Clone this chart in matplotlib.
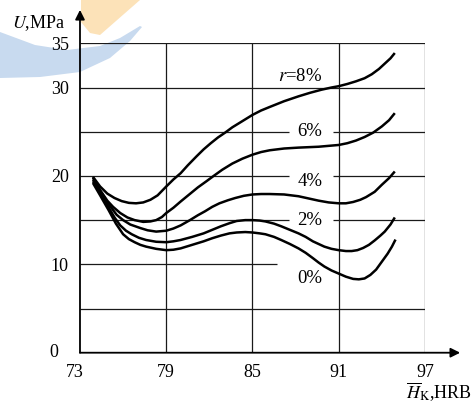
import matplotlib
matplotlib.use('Agg')
import matplotlib.pyplot as plt
from matplotlib import patches

plt.rcParams['font.family'] = ['Liberation Serif', 'DejaVu Serif']
plt.rcParams['mathtext.fontset'] = 'stix'

# values (hardness HRB vs stress MPa)
x_8 = [73.9, 74.4, 74.9, 75.4, 75.9, 76.4, 76.9, 77.4, 77.9, 78.4, 79.0, 79.5, 80.0, 80.5,
       81.1, 81.6, 82.1, 82.6, 83.1, 83.6, 84.2, 85.0, 85.6, 86.2, 87.2, 88.2, 89.0, 89.8,
       90.5, 91.0, 91.6, 92.2, 92.8, 93.3, 93.8, 94.2, 94.6, 94.9]
u_8 = [19.9, 18.8, 18.0, 17.5, 17.15, 16.95, 16.9, 17.0, 17.3, 17.8, 18.8, 19.6, 20.3, 21.2,
       22.2, 23.0, 23.7, 24.35, 24.9, 25.5, 26.1, 26.9, 27.4, 27.8, 28.45, 29.0, 29.4, 29.75,
       30.0, 30.15, 30.4, 30.7, 31.05, 31.5, 32.1, 32.7, 33.3, 33.9]
x_6 = [73.9, 74.4, 74.9, 75.3, 75.8, 76.3, 76.8, 77.4, 77.9, 78.3, 78.7, 79.0, 79.5, 80.0,
       80.6, 81.2, 81.8, 82.3, 82.9, 83.6, 84.3, 85.0, 85.6, 86.2, 87.2, 88.2, 89.6, 91.0,
       91.6, 92.2, 92.8, 93.4, 94.0, 94.5, 94.9]
u_6 = [19.8, 18.4, 17.2, 16.5, 15.8, 15.3, 15.0, 14.8, 14.85, 15.0, 15.35, 15.8, 16.4, 17.1,
       17.9, 18.7, 19.4, 20.0, 20.7, 21.4, 21.95, 22.4, 22.7, 22.9, 23.1, 23.2, 23.3, 23.5,
       23.7, 24.0, 24.4, 24.9, 25.6, 26.3, 27.1]
x_4 = [73.9, 74.4, 74.9, 75.55, 76.0, 76.5, 77.2, 77.7, 78.3, 79.0, 79.5, 80.0, 80.65, 81.2,
       81.7, 82.2, 82.7, 83.3, 83.8, 84.4, 85.0, 85.6, 86.2, 87.2, 88.2, 88.9, 89.6, 90.3,
       91.0, 91.5, 92.0, 92.5, 92.9, 93.5, 94.0, 94.5, 94.9]
u_4 = [19.6, 18.3, 17.0, 15.6, 15.0, 14.5, 14.1, 13.85, 13.7, 13.8, 14.05, 14.4, 15.0, 15.55,
       16.0, 16.5, 16.9, 17.25, 17.5, 17.75, 17.9, 17.95, 17.95, 17.9, 17.7, 17.45, 17.2, 17.0,
       16.9, 16.9, 17.05, 17.3, 17.6, 18.2, 19.0, 19.75, 20.5]
x_2 = [73.9, 74.4, 74.9, 75.4, 75.8, 76.2, 76.6, 77.1, 77.6, 78.3, 79.0, 79.5, 80.0, 80.8,
       81.6, 82.2, 82.8, 83.4, 83.9, 84.5, 85.0, 85.5, 85.9, 86.5, 87.0, 87.6, 88.2, 88.7,
       89.2, 89.6, 90.0, 90.5, 91.0, 91.5, 91.9, 92.3, 92.7, 93.1, 93.5, 93.9, 94.2, 94.6,
       94.9]
u_2 = [19.4, 18.0, 16.7, 15.3, 14.4, 13.8, 13.4, 13.0, 12.75, 12.55, 12.5, 12.6, 12.75, 13.1,
       13.5, 13.9, 14.3, 14.65, 14.9, 15.0, 15.0, 14.95, 14.85, 14.6, 14.3, 13.9, 13.5, 13.1,
       12.6, 12.3, 12.0, 11.75, 11.6, 11.5, 11.5, 11.6, 11.85, 12.2, 12.7, 13.25, 13.7, 14.5,
       15.3]
x_0 = [73.9, 74.4, 75.0, 75.5, 76.0, 76.4, 76.8, 77.2, 77.6, 78.3, 79.0, 79.5, 80.0, 80.8,
       81.6, 82.2, 82.8, 83.4, 83.9, 84.5, 85.0, 85.5, 85.9, 86.5, 87.0, 87.6, 88.2, 88.7,
       89.2, 89.6, 90.0, 90.5, 91.0, 91.5, 92.0, 92.4, 92.8, 93.2, 93.6, 94.0, 94.4, 94.7,
       94.95]
u_0 = [19.2, 17.8, 16.1, 14.6, 13.4, 12.85, 12.5, 12.2, 12.0, 11.75, 11.6, 11.65, 11.8, 12.2,
       12.6, 12.95, 13.25, 13.5, 13.6, 13.65, 13.6, 13.5, 13.4, 13.1, 12.75, 12.3, 11.8, 11.3,
       10.7, 10.2, 9.75, 9.3, 8.95, 8.6, 8.35, 8.3, 8.4, 8.8, 9.4, 10.3, 11.2, 12.0, 12.8]

curves = [(x_8, u_8), (x_6, u_6), (x_4, u_4), (x_2, u_2), (x_0, u_0)]
curve_labels = [r'$r$=8%', '6%', '4%', '2%', '0%']
label_y = [31.3, 25.05, 19.4, 15.0, 8.45]

x_ticks = [79, 85, 91, 97]
y_ticks = [10, 20, 30, 35]
h_grid = [5, 10, 15, 20, 25, 30, 35]

fig = plt.figure(figsize=(4.75, 4.12), dpi=100)

# faint watermark in the top-left corner (figure pixels)
wm = fig.add_axes([0, 0, 1, 1], zorder=-5)
wm.set_xlim(0, 475)
wm.set_ylim(412, 0)
wm.axis('off')
outer = [(0, 78), (40, 77), (80, 72), (110, 58), (130, 41), (142, 27)]
inner = [(140, 26), (120, 38), (100, 46), (67, 50), (35, 45), (0, 32)]
wm.add_patch(patches.Polygon(outer + inner, closed=True, color='#c8daef', lw=0))
wm.add_patch(patches.Polygon([(81, 0), (140, 0), (100, 35), (90, 33), (81, 22)],
                             closed=True, color='#fce2b8', lw=0))

ax = fig.add_axes([0.1684, 0.1439, 0.7263, 0.7510])
ax.patch.set_alpha(0)
ax.set_xlim(73, 97)
ax.set_ylim(0, 35)
for s in ax.spines.values():
    s.set_visible(False)

gc = '#1a1a1a'
for y in h_grid:
    if y == 10:
        ax.hlines(y, 73, 86.7, color=gc, lw=0.9)
    elif y in (15, 20, 25):
        ax.hlines(y, 73, 87.55, color=gc, lw=0.9)
        ax.hlines(y, 90.6, 97, color=gc, lw=0.9)
    else:
        ax.hlines(y, 73, 97, color=gc, lw=0.9)
for x in x_ticks:
    ax.vlines(x, 0, 35, color=gc, lw=0.9)

# axes with arrow heads
ax.annotate('', xy=(0, 1.108), xytext=(0, 0), xycoords='axes fraction',
            arrowprops=dict(arrowstyle='-|>', lw=1.3, color='k', mutation_scale=14,
                            shrinkA=0, shrinkB=0))
ax.annotate('', xy=(1.102, 0), xytext=(0, 0), xycoords='axes fraction',
            arrowprops=dict(arrowstyle='-|>', lw=1.3, color='k', mutation_scale=14,
                            shrinkA=0, shrinkB=0))

for (xs, us) in curves:
    ax.plot(xs, us, color='k', lw=1.8, solid_capstyle='butt', solid_joinstyle='round',
            zorder=4)

for lab, ly in zip(curve_labels, label_y):
    ax.text(89.85, ly, lab, ha='right', va='center', fontsize=13.5)

ax.set_xticks(x_ticks)
ax.set_yticks(y_ticks)
ax.tick_params(length=0, labelsize=13, pad=8)
ax.annotate('0', xy=(73, 0), xytext=(-16, 0), textcoords='offset points',
            ha='right', va='center', fontsize=13)
ax.annotate('73', xy=(73, 0), xytext=(-3.5, -8), textcoords='offset points',
            ha='center', va='top', fontsize=13)

fig.text(65 / 475, 1 - 23 / 412, r'$U$,MPa', ha='right', va='center', fontsize=13)
fig.text(472 / 475, 1 - 399 / 412, r'$\overline{H}_{\mathrm{K}}$,HRB', ha='right',
         va='baseline', fontsize=13)

fig.savefig('out.png', dpi=100)
